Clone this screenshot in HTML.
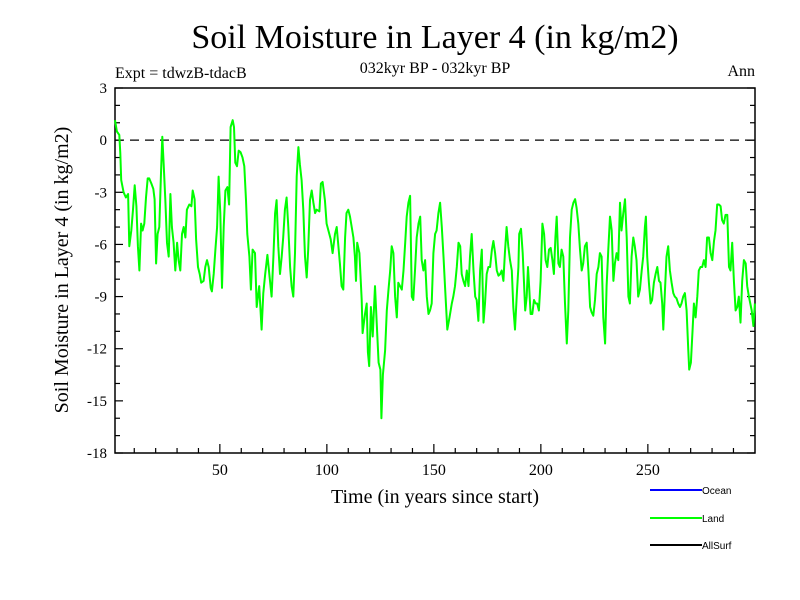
<!DOCTYPE html>
<html><head><meta charset="utf-8"><style>
body{margin:0;background:#fff;}
svg{display:block;font-family:"Liberation Serif",serif;}
</style></head><body>
<svg id="chart" width="800" height="600">
<text x="435" y="48" font-size="34" text-anchor="middle">Soil Moisture in Layer 4 (in kg/m2)</text>
<text x="435" y="73" font-size="16" text-anchor="middle">032kyr BP - 032kyr BP</text>
<text x="115" y="78" font-size="16">Expt = tdwzB-tdacB</text>
<text x="755" y="76" font-size="16" text-anchor="end">Ann</text>
<text transform="translate(68,270) rotate(-90)" font-size="20" text-anchor="middle">Soil Moisture in Layer 4 (in kg/m2)</text>
<text x="435" y="503" font-size="20" text-anchor="middle">Time (in years since start)</text>
<g id="axes"></g>
<g id="series"></g>
<g font-family="Liberation Sans, sans-serif" font-size="10">
<line x1="650" y1="490" x2="702" y2="490" stroke="#0000ff" stroke-width="2"/>
<text x="702" y="494">Ocean</text>
<line x1="650" y1="518" x2="702" y2="518" stroke="#00ff00" stroke-width="2"/>
<text x="702" y="522">Land</text>
<line x1="650" y1="545" x2="702" y2="545" stroke="#000" stroke-width="2"/>
<text x="702" y="549">AllSurf</text>
</g>
</svg>
<script>
const yTicks=[3,0,-3,-6,-9,-12,-15,-18];
const xTicks=[50,100,150,200,250];
const landYears=[1.0,1.9,3.0,3.5,3.9,5.0,6.1,7.1,7.7,8.6,9.4,10.2,11.0,11.7,12.4,13.2,13.9,14.7,15.5,16.3,17.0,18.0,18.9,19.5,20.2,20.9,21.7,22.5,23.1,23.7,24.5,25.3,26.1,26.9,27.6,28.4,29.2,30.0,30.7,31.5,32.3,33.1,33.9,34.6,35.7,36.7,37.3,38.2,38.9,39.8,40.6,41.3,42.4,43.2,44.0,44.8,45.7,46.3,47.1,47.9,48.7,49.4,50.2,51.0,51.8,52.6,53.5,54.3,55.0,56.0,56.6,57.2,58.0,58.8,59.7,60.6,61.4,
62.2,62.8,63.8,64.5,65.3,66.4,67.2,68.4,69.5,70.3,71.2,72.2,73.1,74.2,75.0,75.8,76.5,77.3,78.1,78.9,79.6,80.4,81.2,82.0,82.8,83.5,84.3,85.1,85.9,86.7,87.4,88.2,89.0,89.8,90.6,91.3,92.1,92.9,93.7,94.5,95.2,96.5,97.2,98.0,99.1,99.9,100.7,101.8,102.7,103.8,104.6,105.4,106.1,106.9,107.7,108.5,109.2,110.0,110.8,111.6,112.4,113.1,113.6,114.2,115.2,116.3,116.7,117.8,118.6,119.2,119.8,120.6,121.4,
122.5,123.3,124.2,125.0,125.5,126.2,127.2,128.0,128.8,129.6,130.3,131.1,131.9,132.7,133.4,134.2,135.0,135.8,136.6,137.3,138.1,138.9,139.7,140.4,141.2,142.0,142.8,143.6,144.3,145.1,145.9,146.7,147.5,148.2,149.0,149.8,150.6,151.3,152.1,152.9,153.7,154.5,155.2,156.3,157.3,158.4,159.1,159.9,160.7,161.5,162.3,163.0,163.8,164.6,165.4,166.2,166.9,167.7,168.5,169.3,170.0,170.8,171.6,172.4,173.2,173.9,174.7,175.5,176.3,177.1,177.8,178.6,179.4,180.2,181.0,181.7,182.5,
183.2,184.0,184.8,185.6,186.4,187.1,187.9,188.7,189.5,189.9,190.7,191.5,192.1,192.7,193.4,194.0,194.6,195.2,196.0,196.8,197.6,198.3,199.1,199.9,200.7,201.5,202.2,203.0,203.8,204.6,205.4,206.1,206.8,207.4,208.2,208.9,209.7,210.5,211.3,212.1,212.8,213.6,214.4,215.2,216.0,216.7,217.5,218.3,219.1,219.8,220.6,221.4,222.2,223.0,223.7,224.5,225.3,226.1,226.9,227.6,228.4,229.2,230.0,230.7,231.5,232.3,233.1,233.9,234.6,235.4,236.2,237.0,237.7,238.5,239.3,240.1,240.9,241.6,242.4,243.2,
243.9,244.7,245.5,246.3,247.1,247.8,248.6,249.1,249.7,250.5,251.3,252.0,252.8,253.6,254.4,255.2,255.9,256.7,257.2,258.0,258.7,259.5,260.3,261.1,261.9,262.6,263.4,264.2,265.0,265.7,266.5,267.3,268.1,268.9,269.3,270.1,270.9,271.5,272.3,273.1,273.8,274.6,275.4,276.2,277.0,277.7,278.5,279.3,280.1,280.9,281.6,282.4,283.2,284.0,284.7,285.5,286.3,287.1,287.9,288.6,289.4,290.2,291.0,291.8,292.5,293.3,294.1,294.9,295.7,296.4,297.2,298.5,299.3,300.0];
const landValues=[1.15,0.5,0.3,-0.75,-2.3,-3.0,-3.3,-3.1,-6.1,-5.2,-4.0,-2.6,-3.8,-6.1,-7.5,-4.8,-5.2,-4.8,-3.3,-2.2,-2.2,-2.5,-2.8,-3.4,-7.1,-5.4,-5.0,-1.9,0.2,-1.3,-3.4,-5.9,-6.7,-3.1,-5.0,-5.9,-7.5,-5.9,-6.9,-7.5,-5.4,-5.0,-5.6,-4.0,-3.7,-3.8,-2.9,-3.4,-5.7,-7.3,-7.7,-8.2,-8.1,-7.3,-6.9,-7.3,-8.5,-8.7,-7.7,-6.3,-5.0,-2.1,-4.2,-8.5,-5.0,-2.9,-2.7,-3.7,0.75,1.15,0.75,-1.3,-1.5,-0.6,-0.7,-1.0,-1.5,
-3.45,-5.4,-6.7,-8.6,-6.3,-6.5,-9.6,-8.4,-10.9,-8.8,-7.7,-6.6,-7.7,-9.0,-6.7,-4.2,-3.45,-6.1,-7.7,-6.7,-5.6,-4.0,-3.3,-5.0,-7.3,-8.4,-9.0,-6.5,-2.1,-0.4,-1.4,-2.3,-4.0,-6.7,-7.9,-6.3,-3.45,-2.9,-3.6,-4.2,-4.0,-4.1,-2.5,-2.4,-3.45,-4.8,-5.2,-5.7,-6.5,-5.4,-5.0,-6.1,-7.1,-8.4,-8.6,-5.6,-4.2,-4.0,-4.4,-5.0,-5.6,-6.7,-8.1,-5.9,-6.5,-9.2,-11.1,-10.0,-9.4,-12.2,-13.0,-9.6,-11.3,
-8.4,-10.5,-12.8,-13.2,-16.0,-13.5,-12.1,-9.8,-8.6,-7.5,-6.1,-6.5,-9.0,-10.2,-8.2,-8.4,-8.6,-7.5,-5.9,-4.4,-3.6,-3.2,-9.0,-9.2,-7.5,-5.6,-4.8,-4.4,-6.9,-7.5,-6.9,-9.0,-10.0,-9.8,-9.4,-6.5,-5.4,-5.2,-4.2,-3.6,-5.0,-6.7,-8.4,-10.9,-10.2,-9.4,-9.0,-8.4,-7.3,-5.9,-6.1,-7.7,-8.1,-8.4,-7.5,-8.4,-6.7,-5.4,-7.5,-9.0,-9.2,-10.4,-7.5,-6.3,-10.5,-9.4,-7.7,-7.3,-7.3,-6.3,-5.8,-6.5,-7.5,-7.8,-7.7,-7.5,-8.1,
-6.5,-5.0,-6.1,-6.9,-7.5,-9.6,-10.9,-9.0,-7.3,-5.4,-5.1,-6.5,-8.2,-9.8,-9.0,-7.3,-8.6,-10.0,-10.0,-9.2,-9.4,-9.4,-9.8,-8.1,-4.8,-5.4,-6.9,-7.3,-6.3,-6.2,-6.9,-7.7,-5.6,-4.4,-7.1,-7.3,-6.3,-6.7,-9.4,-11.7,-9.8,-5.6,-4.0,-3.6,-3.4,-3.9,-4.8,-6.3,-7.5,-7.1,-6.1,-5.9,-7.5,-9.6,-9.9,-10.1,-9.2,-7.7,-7.3,-6.5,-6.7,-10.2,-11.7,-8.4,-6.3,-4.4,-5.2,-8.1,-7.1,-6.5,-6.9,-3.6,-5.2,-4.2,-3.4,-5.6,-9.0,-9.4,-6.7,-5.6,
-6.1,-6.9,-9.0,-8.6,-7.5,-6.7,-5.0,-4.4,-6.7,-8.2,-9.4,-9.2,-8.2,-7.7,-7.3,-8.1,-8.2,-9.4,-10.9,-8.6,-6.7,-6.1,-7.5,-8.2,-8.8,-9.0,-9.1,-9.4,-9.6,-9.4,-9.0,-8.8,-9.8,-12.1,-13.2,-12.8,-10.9,-9.4,-10.2,-9.0,-7.5,-7.3,-7.3,-6.9,-7.3,-5.6,-5.6,-6.5,-6.9,-5.8,-5.2,-3.7,-3.7,-3.8,-4.6,-4.8,-4.3,-4.3,-7.3,-7.5,-5.9,-8.1,-9.8,-9.6,-9.0,-10.5,-8.1,-6.9,-7.1,-8.4,-9.0,-9.8,-10.7,-9.4];
const NS="http://www.w3.org/2000/svg";
const L=115,R=755,T=88,B=453;
function xs(v){return 115+(v-1)*2.14;}
function ys(v){return T+(3-v)*(B-T)/21;}
function mk(tag,attrs,parent){const e=document.createElementNS(NS,tag);for(const k in attrs)e.setAttribute(k,attrs[k]);parent.appendChild(e);return e;}
const ax=document.getElementById('axes');
const frame=mk('rect',{x:L,y:T,width:R-L,height:B-T,fill:'none',stroke:'#000','stroke-width':1.5},ax);


for(let v=3;v>=-18;v--){
  const y=ys(v),len=(v%3===0)?8:5;
  const t1=mk('line',{x1:L,y1:y,x2:L+len,y2:y,stroke:'#000','stroke-width':1.2},ax);
  
  
  const t2=mk('line',{x1:R,y1:y,x2:R-len,y2:y,stroke:'#000','stroke-width':1.2},ax);
  
  
}
yTicks.forEach(v=>{
  const t=mk('text',{x:L-8,y:ys(v)+5,'font-size':15,'text-anchor':'end'},ax);
  t.textContent=String(v);
  
  
});
for(let v=10;v<300;v+=10){
  const x=xs(v),len=(v%50===0)?9:5;
  const t=mk('line',{x1:x,y1:B,x2:x,y2:B-len,stroke:'#000','stroke-width':1.2},ax);
  
  
}
xTicks.forEach(v=>{
  const t=mk('text',{x:xs(v),y:B+22,'font-size':16,'text-anchor':'middle'},ax);
  t.textContent=String(v);
  
  
});
const zl=mk('line',{x1:L,y1:ys(0),x2:R,y2:ys(0),stroke:'#000','stroke-width':1.2,'stroke-dasharray':'9,6'},ax);


const d=landYears.map((yr,i)=>(i?'L':'M')+xs(yr).toFixed(1)+','+ys(landValues[i]).toFixed(1)).join('');
const p=mk('path',{d:d,fill:'none',stroke:'#00ff00','stroke-width':2,'stroke-linejoin':'round'},document.getElementById('series'));


</script>
</body></html>
